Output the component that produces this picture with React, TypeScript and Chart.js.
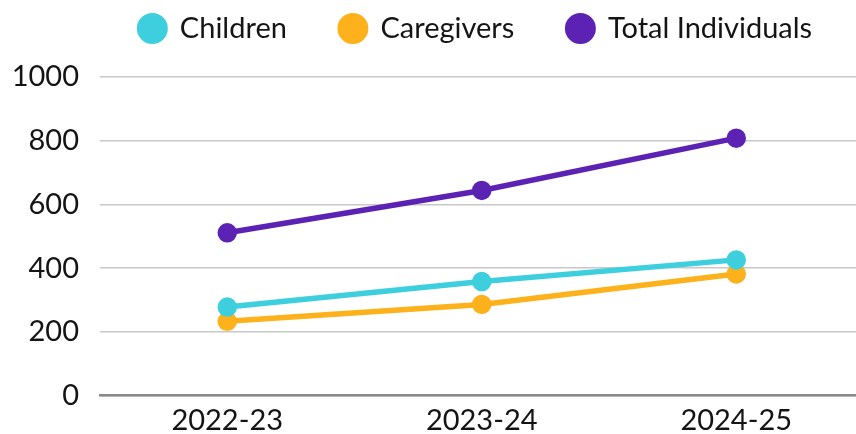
import React, { useEffect, useRef } from "react";
import { Chart, registerables } from "chart.js";

Chart.register(...registerables);

const categories = ["2022-23", "2023-24", "2024-25"];
const children = [278, 358, 426];
const caregivers = [233, 286, 382];
const totalIndividuals = [511, 644, 808];
const yTicks = [0, 200, 400, 600, 800, 1000];

const FONT = "Lato";
const TEXT = "#141414";

const legendSpace = {
  id: "legendSpace",
  beforeInit(chart: any) {
    const lg = chart.legend;
    if (!lg) return;
    const fit = lg.fit;
    lg.fit = function () {
      const mw = this.maxWidth;
      this.maxWidth = 5000;
      fit.call(this);
      this.maxWidth = mw;
      this.width = Math.min(this.width, mw);
      this.height += 24;
    };
  },
  afterLayout(chart: any) {
    const lg = chart.legend;
    if (!lg) return;
    lg.left -= 20;
    lg.right += 8;
  },
};

export default function App() {
  const ref = useRef<HTMLCanvasElement | null>(null);
  useEffect(() => {
    if (!ref.current) return;
    const mk = (label: string, data: number[], color: string) => ({
      label,
      data,
      borderColor: color,
      backgroundColor: color,
      pointBackgroundColor: color,
      pointBorderColor: color,
      borderWidth: 5.5,
      pointRadius: 7,
      pointHoverRadius: 7,
      tension: 0,
    });
    const chart = new Chart(ref.current, {
      type: "line",
      data: {
        labels: categories,
        datasets: [
          mk("Children", children, "#3ECFDE"),
          mk("Caregivers", caregivers, "#FDB11B"),
          mk("Total Individuals", totalIndividuals, "#5B22B4"),
        ],
      },
      plugins: [legendSpace],
      options: {
        animation: false,
        responsive: true,
        maintainAspectRatio: false,
        layout: { padding: { top: -39, right: 0, left: 0, bottom: -15 } },
        plugins: {
          tooltip: { enabled: false },
          legend: {
            position: "top",
            fullSize: false,
            labels: {
              usePointStyle: true,
              pointStyle: "circle",
              boxWidth: 26,
              boxHeight: 18,
              padding: 53,
              color: TEXT,
              font: { family: FONT, size: 29 },
            },
          },
        },
        scales: {
          x: {
            offset: true,
            grid: { display: false, drawTicks: false },
            border: { display: true, color: "#8a8a8a", width: 2.5 },
            ticks: {
              color: TEXT,
              font: { family: FONT, size: 29, lineHeight: 1 },
              padding: 11,
            },
          },
          y: {
            min: 0,
            max: 1000,
            afterBuildTicks: (s: any) => {
              s.ticks = yTicks.map((v) => ({ value: v }));
            },
            afterFit: (s: any) => {
              s.width = 100;
            },
            grid: { color: "#c8c8c8", lineWidth: 1.5, drawTicks: false },
            border: { display: false },
            ticks: {
              color: TEXT,
              font: { family: FONT, size: 29 },
              padding: 21,
              callback: (v: any) => String(v),
            },
          },
        },
      },
    });
    return () => chart.destroy();
  }, []);
  return (
    <div style={{ position: "absolute", left: 0, top: 0, width: 856, height: 434, overflow: "hidden" }}>
      <div style={{ position: "relative", width: 876, height: 434 }}>
        <canvas ref={ref} />
      </div>
    </div>
  );
}
